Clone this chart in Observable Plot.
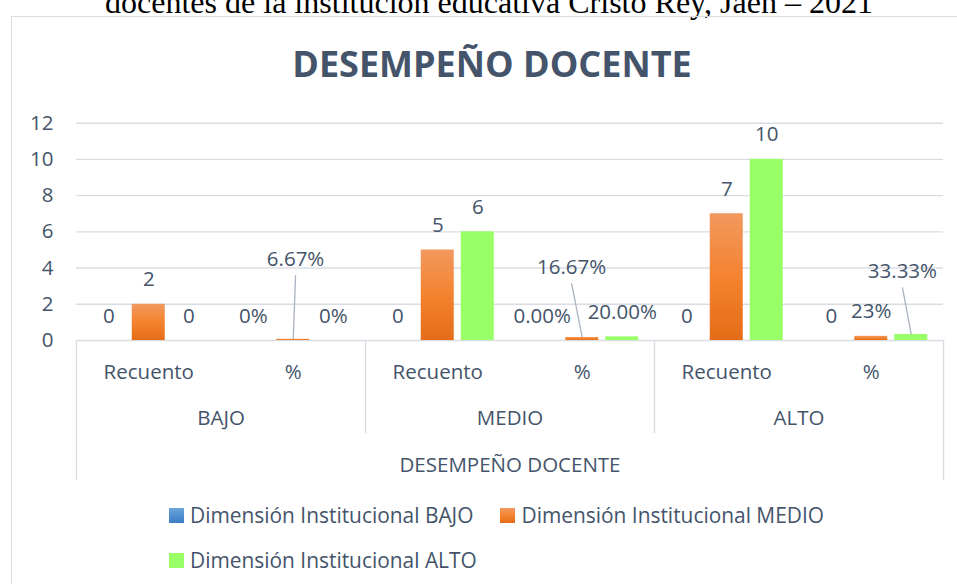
<!DOCTYPE html>
<html>
<head>
<meta charset="utf-8">
<script src="https://cdn.jsdelivr.net/npm/d3@7"></script>
<script src="https://cdn.jsdelivr.net/npm/@observablehq/plot@0.6"></script>
<style>
  html, body { margin: 0; padding: 0; background: #fff; }
  #page { position: relative; width: 957px; height: 584px; overflow: hidden; background: #fff;
          font-family: "Open Sans", sans-serif; color: #44546A; }
  #doc-title { position: absolute; left: 0; top: 0; }
  #box { position: absolute; left: 11px; top: 16px; width: 1000px; height: 700px;
         border: 1.5px solid #d9dde3; box-sizing: border-box; }
  #chart-title { position: absolute; left: 0; width: 984px; top: 39px; text-align: center;
                 font-family: "Open Sans", sans-serif; font-weight: 700; font-size: 36px;
                 line-height: normal; color: #44546A; white-space: nowrap; }
  #plot { position: absolute; left: 0; top: 100px; }
  #legend { position: absolute; left: 169px; top: 501px; width: 700px; display: flex; flex-wrap: wrap;
            column-gap: 27px; row-gap: 17px; font-size: 20.9px; line-height: 28px; color: #44546A; }
  .item { display: inline-flex; align-items: center; white-space: nowrap; }
  .sw { width: 15px; height: 15px; margin-right: 6px; display: inline-block; }
</style>
</head>
<body>
<div id="page">
  <svg id="doc-title" width="957" height="20">
    <text x="489" y="12.5" text-anchor="middle" font-family="Liberation Serif, Times New Roman, serif"
          font-size="31.5" fill="#000" textLength="768" lengthAdjust="spacingAndGlyphs">docentes de la institución educativa Cristo Rey, Jaén – 2021</text>
  </svg>
  <div id="box"></div>
  <div id="chart-title">DESEMPEÑO DOCENTE</div>
  <div id="plot"></div>
  <div id="legend"></div>
</div>
<script>
// ---- data ----
const groups = ["BAJO", "MEDIO", "ALTO"];
const subcats = ["Recuento", "%"];
const seriesNames = ["Dimensión Institucional BAJO", "Dimensión Institucional MEDIO", "Dimensión Institucional ALTO"];
const axisTitle = "DESEMPEÑO DOCENTE";

// values per series, indexed by group (BAJO, MEDIO, ALTO)
const recuentoBajo  = [0, 0, 0];
const recuentoMedio = [2, 5, 7];
const recuentoAlto  = [0, 6, 10];
const pctBajo  = [0, 0, 0];
const pctMedio = [0.0667, 0.1667, 0.23];
const pctAlto  = [0, 0.20, 0.3333];
const pctLabelBajo  = ["0%", "0.00%", "0"];
const pctLabelMedio = ["6.67%", "16.67%", "23%"];
const pctLabelAlto  = ["0%", "20.00%", "33.33%"];

const yTicks = [0, 2, 4, 6, 8, 10, 12];

// ---- build table ----
const recuento = [recuentoBajo, recuentoMedio, recuentoAlto];
const pct = [pctBajo, pctMedio, pctAlto];
const pctLabels = [pctLabelBajo, pctLabelMedio, pctLabelAlto];

const rows = [];
groups.forEach((g, gi) => {
  subcats.forEach((s, si) => {
    seriesNames.forEach((name, j) => {
      const v = si === 0 ? recuento[j][gi] : pct[j][gi];
      const label = si === 0 ? String(recuento[j][gi]) : pctLabels[j][gi];
      rows.push({group: g, sub: s, slot: gi * 2 + si, series: name, value: v, label});
    });
  });
});
const slots = groups.flatMap((g, gi) => subcats.map((s, si) => ({group: g, sub: s, slot: gi * 2 + si})));

// dodge the three series inside each category slot
const inner = d3.scaleBand().domain(seriesNames).range([0, 1]).paddingInner(0.175).paddingOuter(0.394);
const x1 = d => d.slot + inner(d.series);
const x2 = d => d.slot + inner(d.series) + inner.bandwidth();
const xc = d => d.slot + inner(d.series) + inner.bandwidth() / 2;

// labels moved away from their bar, with a leader line (offset in slot units, label foot in value units)
const callout = {"6.67%": [0.016, 3.6], "16.67%": [-0.074, 3.15], "33.33%": [-0.061, 2.93]};
const isCallout = d => d.sub === "%" && callout[d.label] && d.value > 0;

const defs = () => {
  const d = d3.create("svg:defs");
  const add = (id, stops) => {
    const g = d.append("linearGradient").attr("id", id).attr("x1", 0).attr("y1", 0).attr("x2", 0).attr("y2", 1);
    stops.forEach(([o, c]) => g.append("stop").attr("offset", o).attr("stop-color", c));
  };
  add("gradOrange", [[0, "#F1995F"], [0.5, "#F4832F"], [1, "#E46C17"]]);
  add("gradBlue", [[0, "#6AA6DC"], [0.5, "#4A8CD0"], [1, "#3A7CC4"]]);
  return d.node();
};

const chart = Plot.plot({
  width: 957,
  height: 390,
  marginLeft: 76,
  marginRight: 14,
  marginTop: 22.7,
  marginBottom: 150,
  style: {fontFamily: "Open Sans, sans-serif", fontSize: "20.5px", color: "#44546A", background: "transparent", overflow: "visible"},
  x: {domain: [0, slots.length], axis: null},
  y: {domain: [0, 12], ticks: yTicks, tickSize: 0, tickPadding: 23, label: null},
  color: {domain: seriesNames, range: ["url(#gradBlue)", "url(#gradOrange)", "#99FF66"]},
  marks: [
    defs,
    Plot.ruleY(yTicks, {stroke: "#d9dde3", strokeWidth: 1.4}),
    // category table lines
    Plot.ruleX(groups.map((g, gi) => gi * 2).filter(v => v > 0), {y: 0, insetBottom: -93, stroke: "#d9dde3", strokeWidth: 1.4}),
    Plot.ruleX([0, slots.length], {y: 0, insetBottom: -140, stroke: "#d9dde3", strokeWidth: 1.4}),
    Plot.rectY(rows, {x1, x2, y: "value", fill: "series"}),
    Plot.text(rows.filter(d => !isCallout(d)), {x: xc, y: "value", text: "label", dy: -24.5, fill: "#44546A"}),
    Plot.link(rows.filter(isCallout), {x1: xc, y1: "value", x2: d => xc(d) + callout[d.label][0], y2: d => callout[d.label][1], stroke: "#aab3c0", strokeWidth: 1.3}),
    Plot.text(rows.filter(isCallout), {x: d => xc(d) + callout[d.label][0], y: d => callout[d.label][1], text: "label", dy: -16, fill: "#44546A"}),
    // category axis labels
    Plot.text(slots, {x: d => d.slot + 0.5, text: "sub", frameAnchor: "bottom", dy: 38, fill: "#44546A"}),
    Plot.text(groups, {x: (d, i) => i * 2 + 1, text: d => d, frameAnchor: "bottom", dy: 84, fill: "#44546A"}),
    Plot.text([axisTitle], {text: d => d, frameAnchor: "bottom", dy: 131, fill: "#44546A"})
  ]
});
document.getElementById("plot").appendChild(chart);

// legend
const swatchFill = ["linear-gradient(#6AA6DC, #3A7CC4)", "linear-gradient(#F1995F, #F4832F 50%, #E46C17)", "#99FF66"];
const legend = d3.select("#legend");
seriesNames.forEach((name, i) => {
  const it = legend.append("span").attr("class", "item");
  it.append("span").attr("class", "sw").style("background", swatchFill[i]);
  it.append("span").text(name);
});
</script>
</body>
</html>
